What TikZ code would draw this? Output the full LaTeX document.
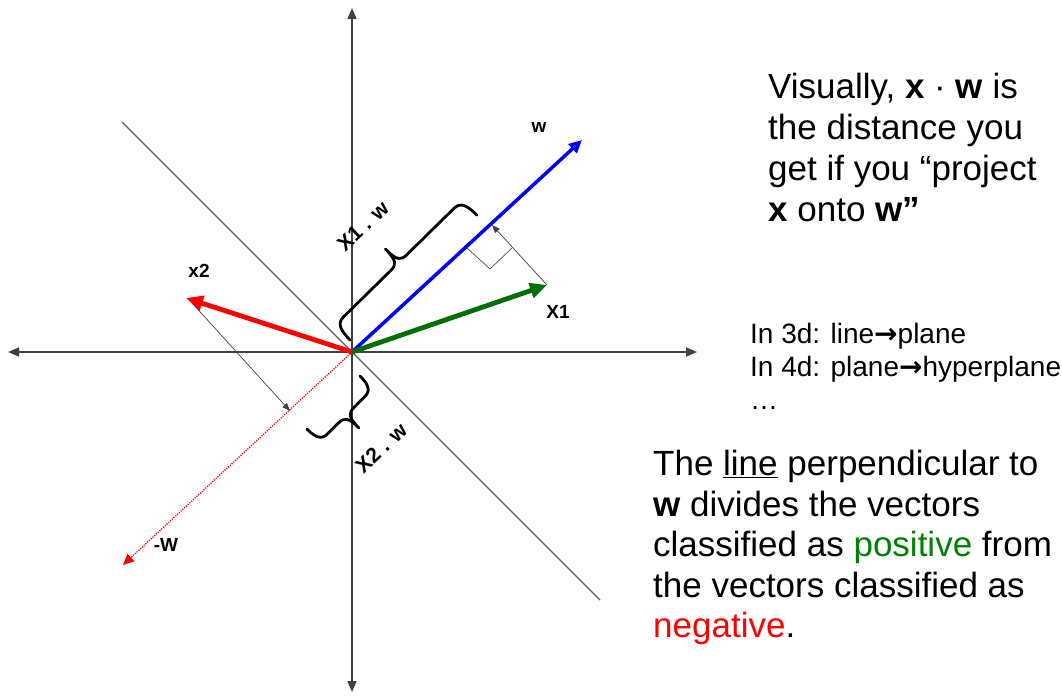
\documentclass[tikz,border=0pt]{standalone}
\usepackage{fontspec}
\setmainfont{Liberation Sans}
\newfontfamily\symfont{DejaVu Sans}
\usetikzlibrary{arrows.meta}
\definecolor{axisgray}{RGB}{64,64,64}
\definecolor{vecgreen}{RGB}{0,110,0}
\definecolor{posgreen}{RGB}{0,128,0}
% curly brace along the x axis: length, shoulder, tip
\newcommand{\bracepath}[3]{(0,0) .. controls (0,-#2*0.6) and (2,-#2) .. (11,-#2)
  -- ({#1/2-11},-#2) .. controls ({#1/2-3},-#2) and ({#1/2},{-#2-3}) .. ({#1/2},-#3)
  .. controls ({#1/2},{-#2-3}) and ({#1/2+3},-#2) .. ({#1/2+11},-#2)
  -- ({#1-11},-#2) .. controls ({#1-2},-#2) and (#1,-#2*0.6) .. (#1,0)}

\begin{document}
\begin{tikzpicture}[x=1pt,y=-1pt,
    axis/.style={draw=axisgray,line width=1.6pt,{Triangle[length=11pt,width=9pt]}-{Triangle[length=11pt,width=9pt]}},
    divider/.style={draw=axisgray!85,line width=1.2pt},
    vec/.style={line width=4.8pt,-{Triangle[length=17pt,width=15pt]}},
    proj/.style={draw=black!75,line width=0.7pt,-{Triangle[length=8pt,width=6pt]}},
    curly/.style={draw,line width=2.8pt,line cap=round,line join=round},
    lbl/.style={inner sep=0,font=\fontsize{19}{21}\selectfont\bfseries},
    txt/.style={inner sep=0,align=left,anchor=north west}]
  \useasboundingbox (0,0) rectangle (1062,698);
  % axes and the dividing line
  \coordinate (o) at (352,352);
  \coordinate (l) at (8,352);
  \coordinate (r) at (697,352);
  \coordinate (t) at (352,8);
  \coordinate (b) at (352,692);
  \coordinate (dl) at (122,122);
  \coordinate (dr) at (600,600);
  \draw[axis] (l) -- (r);
  \draw[axis] (b) -- (t);
  \draw[divider] (dl) -- (dr);
  % vectors
  \coordinate (w) at (582,140);
  \coordinate (xone) at (547,285);
  \coordinate (xtwo) at (186,298);
  \coordinate (mw) at (123,565);
  \draw[red,line width=1.3pt,dash pattern=on 1.2pt off 1.2pt,-{Triangle[length=11pt,width=10pt]}] (o) -- (mw);
  \draw[blue,line width=3.5pt,-{Triangle[length=13pt,width=12pt]}] (o) -- (w);
  \draw[vec,vecgreen] (o) -- (xone);
  \draw[vec,red] (o) -- (xtwo);
  % projections
  \coordinate (fone) at (492,225);
  \coordinate (sone) at (193,304);
  \coordinate (ftwo) at (290,411);
  \draw[proj] (xone) -- (fone);
  \draw[proj] (sone) -- (ftwo);
  \draw[draw=black!70,line width=0.7pt] (467,248) -- (490,269) -- (512,248);
  % braces
  \draw[curly,shift={(350,340)},rotate=44.5] \bracepath{178}{21}{40};
  \draw[curly,shift={(360,376)},rotate=225] \bracepath{75}{18}{36};
  \node[lbl,rotate=43,font=\fontsize{21}{23}\selectfont\bfseries] (pone) at (363,226) {X1 . w};
  \node[lbl,rotate=43,font=\fontsize{21}{23}\selectfont\bfseries] (ptwo) at (381,448) {X2 . w};
  % vector labels
  \node[lbl] (wl) at (539,127) {w};
  \node[lbl] (xonel) at (558,312) {X1};
  \node[lbl] (xtwol) at (199,271) {x2};
  \node[lbl] (mwl) at (166,545) {-W};
  % notes
  \node[txt,font=\fontsize{35}{41}\selectfont] (vis) at (768,73)
    {Visually, \textbf{x} · \textbf{w} is\\the distance you\\get if you “project\\\textbf{x} onto \textbf{w”}};
  \node[txt,font=\fontsize{28}{33}\selectfont] (dims) at (750,323)
    {In 3d: line{\symfont\bfseries →}plane\\In 4d: plane{\symfont\bfseries →}hyperplane\\…};
  \node[txt,font=\fontsize{35}{40.5}\selectfont] (sep) at (653,450)
    {The \underline{line} perpendicular to\\\textbf{w} divides the vectors\\classified as \textcolor{posgreen}{positive} from\\the vectors classified as\\\textcolor{red}{negative}.};
\end{tikzpicture}
\end{document}
